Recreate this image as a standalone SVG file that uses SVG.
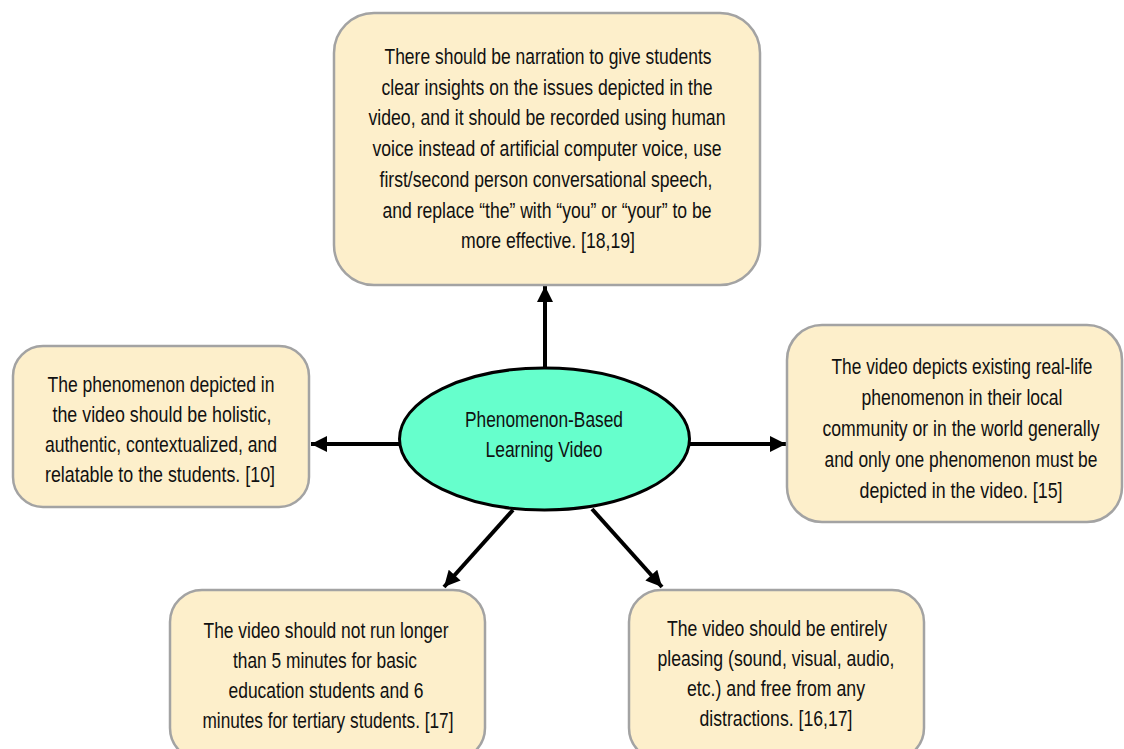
<svg xmlns="http://www.w3.org/2000/svg" width="1124" height="749" viewBox="0 0 1124 749">
<defs>
<style>
.box{fill:#FDEFCB;stroke:#A3A3A3;stroke-width:2.5}
.t{font-family:"Liberation Sans",Arial,sans-serif;font-size:21.5px;fill:#111;text-anchor:middle}
.c{stroke:#000;stroke-width:4;fill:none;marker-end:url(#ah)}
</style>
<marker id="ah" viewBox="0 0 10 10" refX="10" refY="5" markerWidth="4.2" markerHeight="4" orient="auto" markerUnits="strokeWidth">
<path d="M0,0 L10,5 L0,10 Z" fill="#000"/>
</marker>
</defs>
<rect width="1124" height="749" fill="#fff"/>
<g id="connectors">
<line class="c" x1="545" y1="368" x2="545" y2="286"/>
<line class="c" x1="690" y1="444" x2="786" y2="444"/>
<line class="c" x1="400" y1="444" x2="311" y2="444"/>
<line class="c" x1="513" y1="510" x2="444" y2="587"/>
<line class="c" x1="592" y1="509" x2="662" y2="587"/>
</g>
<g id="node-top">
<rect class="box" x="334" y="13" width="426" height="272" rx="40"/>
<text class="t" x="548" y="64" textLength="327" lengthAdjust="spacingAndGlyphs">There should be narration to give students</text>
<text class="t" x="547" y="94.7" textLength="331" lengthAdjust="spacingAndGlyphs">clear insights on the issues depicted in the</text>
<text class="t" x="547" y="125.4" textLength="357" lengthAdjust="spacingAndGlyphs">video, and it should be recorded using human</text>
<text class="t" x="547" y="156.1" textLength="349" lengthAdjust="spacingAndGlyphs">voice instead of artificial computer voice, use</text>
<text class="t" x="546" y="186.8" textLength="333" lengthAdjust="spacingAndGlyphs">first/second person conversational speech,</text>
<text class="t" x="547" y="217.5" textLength="329" lengthAdjust="spacingAndGlyphs">and replace “the” with “you” or “your” to be</text>
<text class="t" x="548" y="248.2" textLength="174" lengthAdjust="spacingAndGlyphs">more effective. [18,19]</text>
</g>
<g id="node-left">
<rect class="box" x="13" y="346" width="296" height="161" rx="30"/>
<text class="t" x="161" y="392" textLength="227" lengthAdjust="spacingAndGlyphs">The phenomenon depicted in</text>
<text class="t" x="162" y="422" textLength="219" lengthAdjust="spacingAndGlyphs">the video should be holistic,</text>
<text class="t" x="161" y="452" textLength="232" lengthAdjust="spacingAndGlyphs">authentic, contextualized, and</text>
<text class="t" x="160" y="482" textLength="230" lengthAdjust="spacingAndGlyphs">relatable to the students. [10]</text>
</g>
<g id="node-right">
<rect class="box" x="787" y="325" width="335" height="197" rx="35"/>
<text class="t" x="962" y="374" textLength="261" lengthAdjust="spacingAndGlyphs">The video depicts existing real-life</text>
<text class="t" x="962" y="405" textLength="201" lengthAdjust="spacingAndGlyphs">phenomenon in their local</text>
<text class="t" x="961" y="436" textLength="277" lengthAdjust="spacingAndGlyphs">community or in the world generally</text>
<text class="t" x="961" y="467" textLength="273" lengthAdjust="spacingAndGlyphs">and only one phenomenon must be</text>
<text class="t" x="961" y="498" textLength="203" lengthAdjust="spacingAndGlyphs">depicted in the video. [15]</text>
</g>
<g id="node-bottom-left">
<rect class="box" x="170" y="590" width="315" height="170" rx="32"/>
<text class="t" x="326" y="638" textLength="245" lengthAdjust="spacingAndGlyphs">The video should not run longer</text>
<text class="t" x="325" y="668" textLength="184" lengthAdjust="spacingAndGlyphs">than 5 minutes for basic</text>
<text class="t" x="326" y="698" textLength="195" lengthAdjust="spacingAndGlyphs">education students and 6</text>
<text class="t" x="328" y="728" textLength="251" lengthAdjust="spacingAndGlyphs">minutes for tertiary students. [17]</text>
</g>
<g id="node-bottom-right">
<rect class="box" x="629" y="590" width="295" height="170" rx="32"/>
<text class="t" x="777" y="636" textLength="220" lengthAdjust="spacingAndGlyphs">The video should be entirely</text>
<text class="t" x="776" y="666" textLength="237" lengthAdjust="spacingAndGlyphs">pleasing (sound, visual, audio,</text>
<text class="t" x="776" y="696" textLength="178" lengthAdjust="spacingAndGlyphs">etc.) and free from any</text>
<text class="t" x="776" y="726" textLength="153" lengthAdjust="spacingAndGlyphs">distractions. [16,17]</text>
</g>
<g id="node-center">
<ellipse cx="544.5" cy="439" rx="145" ry="71" fill="#66FFCC" stroke="#000" stroke-width="3"/>
<text class="t" x="544" y="427" textLength="158" lengthAdjust="spacingAndGlyphs">Phenomenon-Based</text>
<text class="t" x="544" y="457" textLength="117" lengthAdjust="spacingAndGlyphs">Learning Video</text>
</g>
</svg>
